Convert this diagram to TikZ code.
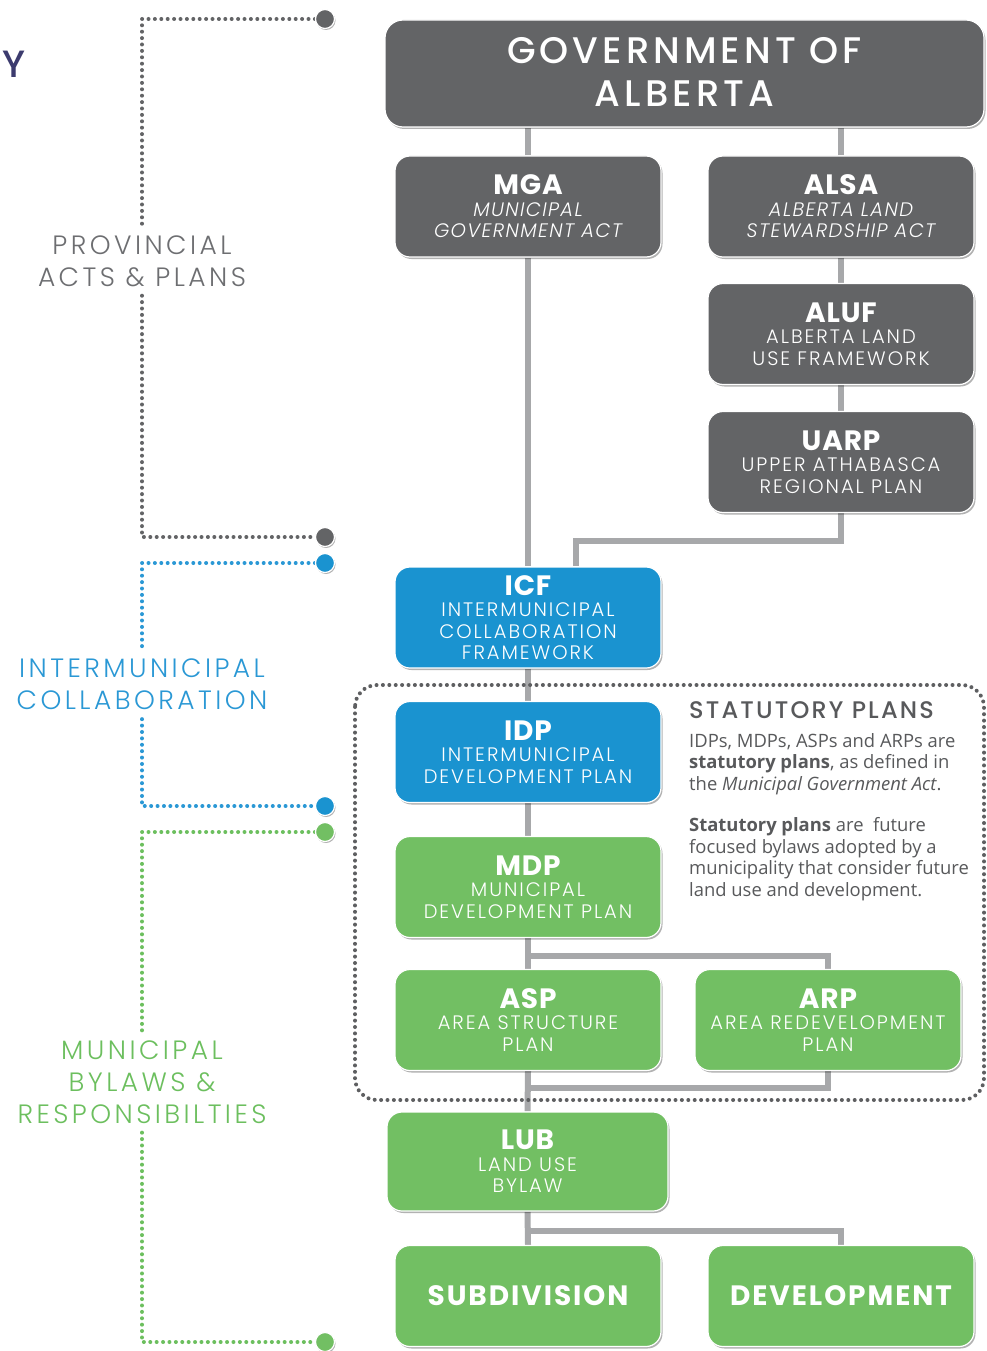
\documentclass[tikz,border=0pt]{standalone}
\usepackage{fontspec}
\setmainfont{Poppins}
\newfontfamily\lightf{Poppins Light}[LetterSpace=10]
\newfontfamily\lightit{Poppins Light Italic}[LetterSpace=7]
\newfontfamily\govf{Poppins Medium}[LetterSpace=11]
\newfontfamily\ttlf{Poppins Bold}[LetterSpace=3]
\newfontfamily\boldls{Poppins Bold}[LetterSpace=7]
\newfontfamily\headf{Poppins Medium}[LetterSpace=9]
\newfontfamily\lblf{Poppins Light}[LetterSpace=13]
\newfontfamily\yf{Poppins Medium}
\newfontfamily\bodyf{Open Sans}
\usetikzlibrary{shadows,backgrounds,calc}
\pgfdeclarelayer{paper}
\pgfsetlayers{paper,background,main}
\definecolor{agray}{HTML}{636466}
\definecolor{ablue}{HTML}{1A93D0}
\definecolor{agreen}{HTML}{72BF63}
\definecolor{conn}{HTML}{A7A8AA}
\definecolor{txtgray}{HTML}{6D6E71}
\definecolor{stgray}{HTML}{58595B}
\definecolor{ytxt}{HTML}{3C3B6E}
\definecolor{lblue}{HTML}{2A98D5}
\definecolor{lgreen}{HTML}{6CBF5E}
\definecolor{dotgray}{HTML}{5E5F61}
\newcommand{\ttl}[1]{{\ttlf\fontsize{28}{21.5}\selectfont #1}}
\newcommand{\itl}[1]{{\lightit #1}}
\newcommand{\bigttl}[1]{{\boldls\fontsize{28}{28}\selectfont #1}}
\tikzset{
  box/.style={rounded corners=15pt, draw=white, line width=1.2pt,
    minimum width=266pt, minimum height=101pt, inner sep=0pt, text=white,
    align=center, font=\lightf\fontsize{19.5}{21.5}\selectfont,
    drop shadow={shadow xshift=1.5pt, shadow yshift=-2pt, fill=black, opacity=0.3}},
  gbox/.style={box, fill=agray},
  bbox/.style={box, fill=ablue},
  grbox/.style={box, fill=agreen},
  link/.style={draw=conn, line width=6pt},
  dotline/.style={line width=4pt, dash pattern=on 0pt off 6.4pt, line cap=round},
  endcirc/.style={circle, draw=white, line width=1.2pt, minimum size=19pt, inner sep=0pt,
    drop shadow={shadow xshift=1pt, shadow yshift=-1.5pt, fill=black, opacity=0.3}},
  sidelbl/.style={align=center, inner xsep=0pt, inner ysep=9pt, font=\lblf\fontsize{26.5}{32}\selectfont}
}
\begin{document}
\begin{tikzpicture}[x=1pt,y=-1pt]
\useasboundingbox (0,0) rectangle (986,1351);
\begin{pgfonlayer}{paper}
\fill[white] (0,0) rectangle (986,1351);
\end{pgfonlayer}

% Y fragment
\node[anchor=base west, inner sep=0pt, text=ytxt, font=\yf\fontsize{38}{38}\selectfont] (ylet) at (2,78) {Y};

% boxes
\node[gbox, minimum width=599pt, minimum height=107pt, rounded corners=18pt, text depth=4pt,
      font=\govf\fontsize{37}{43}\selectfont] (gov) at (684.5,73.5) {GOVERNMENT OF\\ALBERTA};
\node[gbox] (mga) at (528,206.5) {\ttl{MGA}\\\itl{MUNICIPAL}\\\itl{GOVERNMENT ACT}};
\node[gbox] (alsa) at (841,206.5) {\ttl{ALSA}\\\itl{ALBERTA LAND}\\\itl{STEWARDSHIP ACT}};
\node[gbox] (aluf) at (841,334) {\ttl{ALUF}\\ALBERTA LAND\\USE FRAMEWORK};
\node[gbox] (uarp) at (841,462) {\ttl{UARP}\\UPPER ATHABASCA\\REGIONAL PLAN};
\node[bbox] (icf) at (528,617.5) {\ttl{ICF}\\INTERMUNICIPAL\\COLLABORATION\\FRAMEWORK};
\node[bbox] (idp) at (528,752) {\ttl{IDP}\\INTERMUNICIPAL\\DEVELOPMENT PLAN};
\node[grbox] (mdp) at (528,887) {\ttl{MDP}\\MUNICIPAL\\DEVELOPMENT PLAN};
\node[grbox] (asp) at (528,1020) {\ttl{ASP}\\AREA STRUCTURE\\PLAN};
\node[grbox] (arp) at (828,1020) {\ttl{ARP}\\AREA REDEVELOPMENT\\PLAN};
\node[grbox, minimum width=281pt, minimum height=99pt] (lub) at (527.5,1161.5) {\ttl{LUB}\\LAND USE\\BYLAW};
\node[grbox] (sub) at (528,1296) {\bigttl{SUBDIVISION}};
\node[grbox] (dev) at (841,1296) {\bigttl{DEVELOPMENT}};

% connectors
\begin{scope}[on background layer]
\draw[link] (mga.north) -- (mga.north |- gov.south);
\draw[link] (alsa.north) -- (alsa.north |- gov.south);
\draw[link] (mga.south) -- (icf.north);
\draw[link] (alsa.south) -- (aluf.north);
\draw[link] (aluf.south) -- (uarp.north);
\draw[link] (uarp.south) -- ([yshift=-28pt]uarp.south) -| ([xshift=48pt]icf.north);
\draw[link] (icf.south) -- (idp.north);
\draw[link] (idp.south) -- (mdp.north);
\draw[link] (mdp.south) -- (asp.north);
\draw[link] ([yshift=-18pt]mdp.south) -| (arp.north);
\draw[link] (asp.south) -- (lub.north);
\draw[link] (arp.south) |- ([yshift=-17pt]asp.south);
\draw[link] (lub.south) -- (sub.north);
\draw[link] ([yshift=-19pt]lub.south) -| (dev.north);
\end{scope}

% statutory plans frame
\draw[dotline, draw=dotgray, rounded corners=22pt] (355,685) rectangle (984,1100);

% statutory text
\node[anchor=base west, inner sep=0pt, text=stgray, font=\headf\fontsize{24}{24}\selectfont] (sph) at (689,718) {STATUTORY PLANS};
\node[anchor=base west, inner sep=0pt, align=left, text=stgray, font=\bodyf\fontsize{18.4}{21.5}\selectfont] (spa) at (689,790)
  {IDPs, MDPs, ASPs and ARPs are\\\textbf{statutory plans}, as defined in\\the \textit{Municipal Government Act}.};
\node[anchor=base west, inner sep=0pt, align=left, text=stgray, font=\bodyf\fontsize{18.4}{21.5}\selectfont] (spb) at (689,896)
  {\textbf{Statutory plans} are\ \ future\\focused bylaws adopted by a\\municipality that consider future\\land use and development.};

% side brackets
\node[endcirc, fill=agray] (c1) at (325,19) {};
\node[endcirc, fill=agray] (c2) at (325,537) {};
\node[endcirc, fill=ablue] (c3) at (325,563) {};
\node[endcirc, fill=ablue] (c4) at (325,806) {};
\node[endcirc, fill=agreen] (c5) at (325,832) {};
\node[endcirc, fill=agreen] (c6) at (325,1342) {};

\node[sidelbl, text=txtgray] (lprov) at (142,261) {PROVINCIAL\\ACTS \& PLANS};
\node[sidelbl, text=lblue] (linter) at (142,684.5) {INTERMUNICIPAL\\COLLABORATION};
\node[sidelbl, text=lgreen] (lmuni) at (142,1082) {MUNICIPAL\\BYLAWS \&\\RESPONSIBILTIES};

\begin{scope}[on background layer]
\draw[dotline, draw=agray] (c1.west) -| (lprov.north);
\draw[dotline, draw=agray] (lprov.south) |- (c2.west);
\draw[dotline, draw=lblue] (c3.west) -| (linter.north);
\draw[dotline, draw=lblue] (linter.south) |- (c4.west);
\draw[dotline, draw=lgreen] (c5.west) -| (lmuni.north);
\draw[dotline, draw=lgreen] (lmuni.south) |- (c6.west);
\end{scope}
\end{tikzpicture}
\end{document}
